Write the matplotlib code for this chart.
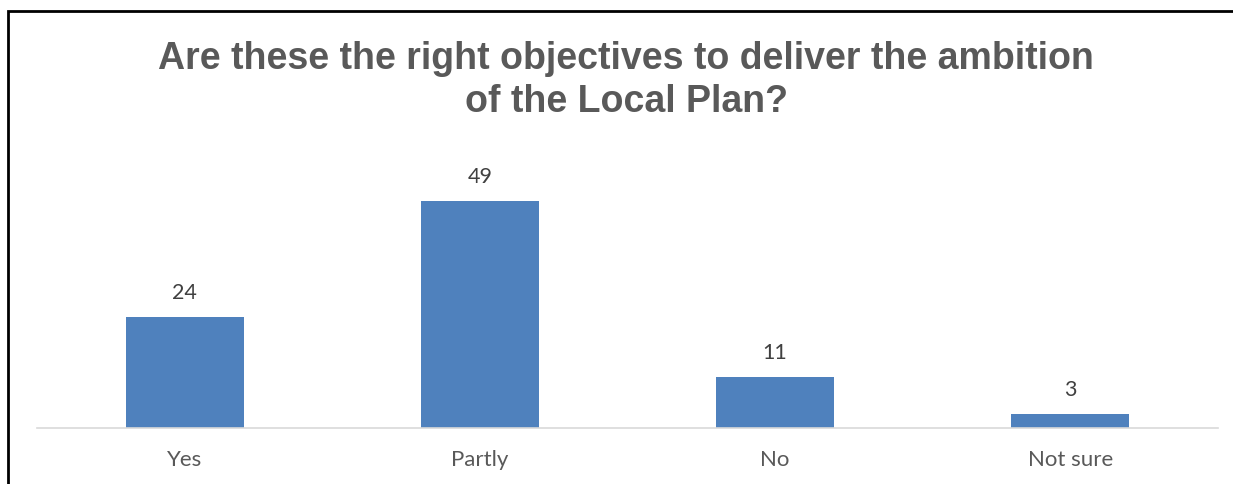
import numpy as np
import matplotlib.pyplot as plt
from matplotlib.patches import Rectangle

# survey responses
answers = ['Yes', 'Partly', 'No', 'Not sure']
counts = [24, 49, 11, 3]

title = 'Are these the right objectives to deliver the ambition\nof the Local Plan?'

fig = plt.figure(figsize=(12.33, 4.84), dpi=100)
ax = fig.add_axes([0.030, 0.1157, 0.9578, 0.574])

x = np.arange(len(answers))
bars = ax.bar(x, counts, width=0.4, color='#4f81bd')

for b, v in zip(bars, counts):
    ax.annotate(str(v), (b.get_x() + b.get_width() / 2, v),
                xytext=(0, 10), textcoords='offset points',
                ha='center', va='bottom', fontsize=15.5,
                family='Lato', color='#404040')

ax.set_xlim(-0.5, len(answers) - 0.5)
ax.set_ylim(0, 60)
ax.set_xticks(x)
ax.set_xticklabels(answers, fontsize=16, family='Lato', color='#595959')
ax.tick_params(axis='x', length=0, pad=16)
ax.set_yticks([])
for s in ['top', 'right', 'left']:
    ax.spines[s].set_visible(False)
ax.spines['bottom'].set_color('#d9d9d9')
ax.spines['bottom'].set_linewidth(1.2)

fig.text(0.508, 0.752, title, ha='center', va='bottom', fontsize=27,
         fontweight='bold', family='Liberation Sans', color='#595959',
         linespacing=1.25)

# chart frame (only left and top edges fall inside the image)
fig.patches.append(Rectangle((8 / 1233, -0.1), 1.2, (484 - 11) / 484 + 0.1,
                             transform=fig.transFigure, fill=False,
                             edgecolor='black', linewidth=2))

fig.savefig('out.png', dpi=100)
